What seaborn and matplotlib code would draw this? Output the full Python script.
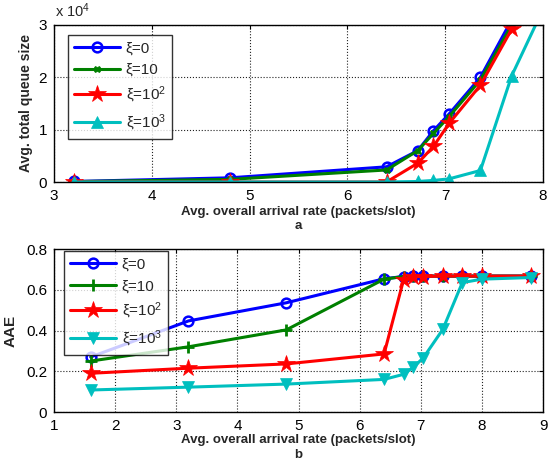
import numpy as np
import pandas as pd
import matplotlib
matplotlib.use("Agg")
import matplotlib.pyplot as plt
import seaborn as sns
from matplotlib.ticker import FuncFormatter

# ---------------- data ----------------
x_top = [3.2, 4.8, 6.4, 6.72, 6.88, 7.04, 7.36, 7.68, 8.0]
q_xi0 = [100, 800, 2900, 6000, 9800, 13000, 20000, 31000, 40000]
q_xi10 = [80, 500, 2300, 6000, 9300, 12500, 19500, 30000, 39000]
q_xi100 = [0, 0, 0, 3600, 6800, 11200, 18500, 29200, 38000]
q_xi1000 = [0, 0, 0, 100, 300, 600, 2200, 20300, 33000]

x_bot = [1.6, 3.2, 4.8, 6.4, 6.72, 6.88, 7.04, 7.36, 7.68, 8.0, 8.8]
a_xi0 = [0.27, 0.447, 0.536, 0.654, 0.665, 0.667, 0.667, 0.667, 0.667, 0.667, 0.667]
a_xi10 = [0.25, 0.32, 0.403, 0.652, 0.665, 0.667, 0.667, 0.667, 0.667, 0.667, 0.667]
a_xi100 = [0.19, 0.215, 0.236, 0.285, 0.65, 0.665, 0.665, 0.667, 0.667, 0.667, 0.667]
a_xi1000 = [0.108, 0.122, 0.137, 0.16, 0.185, 0.22, 0.265, 0.405, 0.635, 0.652, 0.66]

labels = [r"ξ=0", r"ξ=10", r"ξ=10$^{2}$", r"ξ=10$^{3}$"]
colors = ["#0000ff", "#008000", "#ff0000", "#00bfbf"]

sns.set_style("white")
plt.rcParams["font.family"] = ["Liberation Sans", "DejaVu Sans"]
plt.rcParams["mathtext.fontset"] = "custom"
plt.rcParams["mathtext.rm"] = "Liberation Sans"
plt.rcParams["mathtext.it"] = "Liberation Sans:italic"
plt.rcParams["axes.grid"] = True
plt.rcParams["grid.color"] = "#222222"
plt.rcParams["grid.linestyle"] = ":"
plt.rcParams["grid.linewidth"] = 0.8
plt.rcParams["grid.alpha"] = 1.0

fig = plt.figure(figsize=(5.48, 4.65), dpi=100)
W, H = 548, 465
ax1 = fig.add_axes([54 / W, 1 - 182 / H, (543 - 54) / W, (182 - 25) / H])
ax2 = fig.add_axes([54 / W, 1 - 412 / H, (543 - 54) / W, (412 - 249) / H])


def style_axes(ax):
    for s in ax.spines.values():
        s.set_color("black")
        s.set_linewidth(1.0)
    ax.set_axisbelow(True)
    ax.tick_params(direction="in", length=3, labelsize=11, colors="black",
                   top=True, right=True, pad=5)
    ax.grid(True, which="major", axis="both", linestyle=":", color="#222222",
            linewidth=0.8, alpha=1.0)


top_series = [q_xi0, q_xi10, q_xi100, q_xi1000]
top_markers = [dict(marker="o", markersize=7, markerfacecolor="none", markeredgewidth=1.8),
               dict(marker="X", markersize=5, markeredgewidth=0.5),
               dict(marker="*", markersize=13, markeredgewidth=0.5),
               dict(marker="^", markersize=9, markeredgewidth=0.5)]
for ys, lab, c, mk in zip(top_series, labels, colors, top_markers):
    df = pd.DataFrame({"x": x_top, "y": ys})
    sns.lineplot(data=df, x="x", y="y", ax=ax1, color=c, label=lab, linewidth=2.2,
                 markeredgecolor=c, **mk)

ax1.set_xlim(3, 8)
ax1.set_ylim(0, 30000)
ax1.set_xticks([3, 4, 5, 6, 7, 8])
ax1.set_yticks([0, 10000, 20000, 30000])
ax1.yaxis.set_major_formatter(FuncFormatter(lambda v, p: f"{v / 1e4:g}"))
style_axes(ax1)
ax1.set_xlabel("Avg. overall arrival rate (packets/slot)\na", fontsize=9.5,
               fontweight="bold", labelpad=2, linespacing=1.25)
ax1.set_ylabel("Avg. total queue size", fontsize=10, fontweight="bold", labelpad=4)
ax1.text(0.003, 1.03, r"x 10$^{4}$", transform=ax1.transAxes, fontsize=10.5,
         ha="left", va="bottom")
leg1 = ax1.legend(loc="upper left", bbox_to_anchor=(0.028, 0.935), fontsize=11,
                  frameon=True, fancybox=False, edgecolor="black", handlelength=3.0,
                  borderpad=0.4, labelspacing=0.5, handletextpad=0.4, borderaxespad=0)
leg1.get_frame().set_linewidth(1.0)

bot_series = [a_xi0, a_xi10, a_xi100, a_xi1000]
bot_markers = [dict(marker="o", markersize=7, markerfacecolor="none", markeredgewidth=1.8),
               dict(marker="+", markersize=8, markeredgewidth=2),
               dict(marker="*", markersize=13, markeredgewidth=0.5),
               dict(marker="v", markersize=9, markeredgewidth=0.5)]
for ys, lab, c, mk in zip(bot_series, labels, colors, bot_markers):
    df = pd.DataFrame({"x": x_bot, "y": ys})
    sns.lineplot(data=df, x="x", y="y", ax=ax2, color=c, label=lab, linewidth=2.2,
                 markeredgecolor=c, **mk)

ax2.set_xlim(1, 9)
ax2.set_ylim(0, 0.8)
ax2.set_xticks(range(1, 10))
ax2.set_yticks([0, 0.2, 0.4, 0.6, 0.8])
ax2.yaxis.set_major_formatter(FuncFormatter(lambda v, p: f"{v:g}"))
style_axes(ax2)
ax2.set_xlabel("Avg. overall arrival rate (packets/slot)\nb", fontsize=9.5,
               fontweight="bold", labelpad=1, linespacing=1.25)
ax2.set_ylabel("AAE", fontsize=11, fontweight="bold", labelpad=6)
leg2 = ax2.legend(loc="upper left", bbox_to_anchor=(0.02, 0.985), fontsize=11,
                  frameon=True, fancybox=False, edgecolor="black", handlelength=3.0,
                  borderpad=0.4, labelspacing=0.5, handletextpad=0.4, borderaxespad=0)
leg2.get_frame().set_linewidth(1.0)

fig.savefig("out.png", dpi=100)
